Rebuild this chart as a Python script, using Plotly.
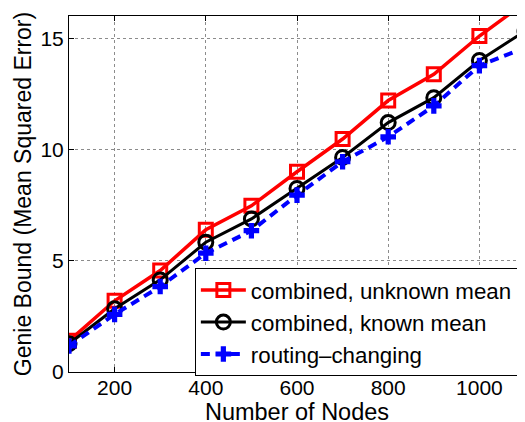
import plotly.graph_objects as go

nodes = [100, 200, 300, 400, 500, 600, 700, 800, 900, 1000, 1100]
unknown_mean = [1.4, 3.2, 4.56, 6.39, 7.47, 9.0, 10.47, 12.2, 13.38, 15.1, 16.6]
known_mean = [1.27, 2.84, 4.14, 5.83, 6.88, 8.25, 9.64, 11.21, 12.33, 14.0, 15.32]
routing_changing = [1.17, 2.59, 3.84, 5.34, 6.35, 7.95, 9.45, 10.57, 11.96, 13.77, 14.57]

x_ticks = [200, 400, 600, 800, 1000]
y_ticks = [0, 5, 10, 15]

FONT = "Liberation Sans, Arial, sans-serif"

fig = go.Figure()
fig.add_trace(go.Scatter(
    x=nodes, y=unknown_mean, mode="lines+markers", name="combined, unknown mean",
    line=dict(color="#ff0000", width=3.5),
    marker=dict(symbol="square-open", size=13, color="#ff0000", line=dict(width=3, color="#ff0000")),
))
fig.add_trace(go.Scatter(
    x=nodes, y=known_mean, mode="lines+markers", name="combined, known mean",
    line=dict(color="#000000", width=3),
    marker=dict(symbol="circle-open", size=14, color="#000000", line=dict(width=3, color="#000000")),
))
fig.add_trace(go.Scatter(
    x=nodes, y=routing_changing, mode="lines+markers", name="routing\u2013changing",
    line=dict(color="#0000ff", width=4, dash="9px,6px"),
    marker=dict(symbol="cross", size=13, color="#0000ff"),
))

axis_common = dict(
    showline=True, linecolor="black", linewidth=1, mirror="ticks",
    ticks="inside", ticklen=5, tickcolor="black",
    showgrid=True, gridcolor="#8c8c8c", griddash="dot", gridwidth=1,
    zeroline=False, tickfont=dict(family=FONT, size=21, color="black"),
    automargin=False,
)

fig.update_xaxes(range=[100, 1100], tickvals=x_ticks, ticklabelstandoff=-3,
                 title=dict(text="Number of Nodes", font=dict(family=FONT, size=23.5, color="black"), standoff=0),
                 **axis_common)
fig.update_yaxes(range=[0, 16], tickvals=y_ticks,
                 title=dict(text="Genie Bound (Mean Squared Error)", font=dict(family=FONT, size=23, color="black"), standoff=2),
                 **axis_common)

# the page body has an 8px default margin, so margins are reduced by 8px on the left/top
fig.update_layout(
    width=525, height=422,
    margin=dict(l=61, r=8, t=8, b=58),
    paper_bgcolor="white", plot_bgcolor="white",
    font=dict(family=FONT, color="black"),
    legend=dict(
        x=0.276, y=0.292, xanchor="left", yanchor="top",
        bgcolor="white", bordercolor="black", borderwidth=1,
        font=dict(family=FONT, size=22.3, color="black"),
        itemwidth=45, tracegroupgap=0,
    ),
    showlegend=True,
)

fig.write_html("out.html")
